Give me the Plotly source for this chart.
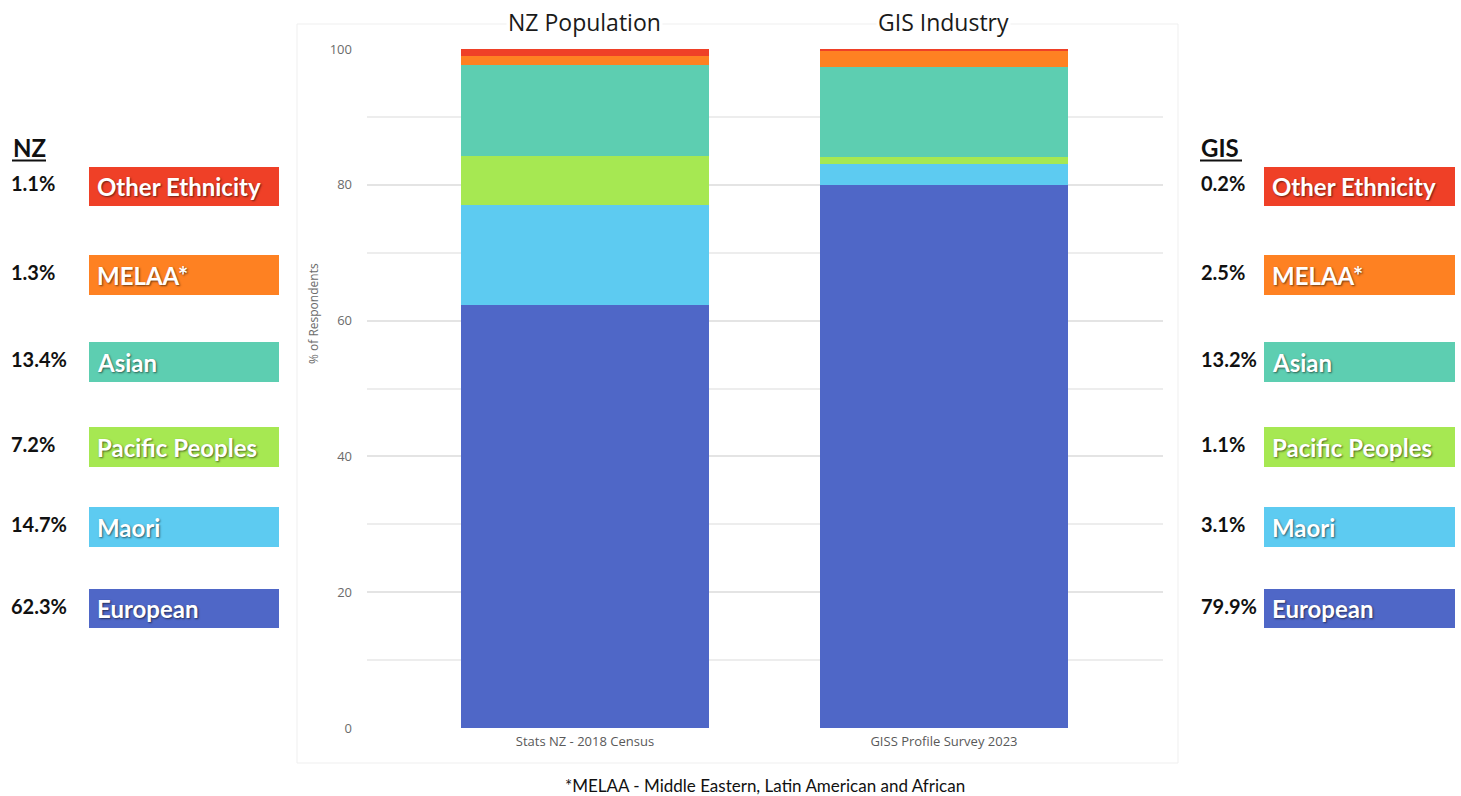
import plotly.graph_objects as go

# ---------------- data ----------------
bar_categories = ["Stats NZ - 2018 Census", "GISS Profile Survey 2023"]
bar_titles = ["NZ Population", "GIS Industry"]
ethnicities = ["European", "Maori", "Pacific Peoples", "Asian", "MELAA*", "Other Ethnicity"]
nz_values = [62.3, 14.7, 7.2, 13.4, 1.3, 1.1]
gis_values = [79.9, 3.1, 1.1, 13.2, 2.5, 0.2]
colors = ["#4F67C7", "#5DCBF1", "#A6E852", "#5DCEB1", "#FE8122", "#EF4027"]
y_tickvals = [0, 20, 40, 60, 80, 100]
footnote = "*MELAA - Middle Eastern, Latin American and African"

# ---------------- geometry ----------------
W, H = 1461, 796
L, R, T, B = 367, 298, 49, 68
PW, PH = W - L - R, H - T - B


def px(xp):
    return (xp - L) / PW


def py(yp):
    return (H - B - yp) / PH


fig = go.Figure()
for i, eth in enumerate(ethnicities):
    fig.add_trace(go.Bar(
        x=bar_categories,
        y=[nz_values[i], gis_values[i]],
        name=eth,
        marker=dict(color=colors[i], line=dict(width=0)),
        width=0.69,
        hoverinfo="name+y",
    ))

shapes = []
annotations = []

# outer light frame
shapes.append(dict(type="rect", xref="paper", yref="paper",
                   x0=px(297), x1=px(1178), y0=py(763), y1=py(24),
                   line=dict(color="#EFEFEF", width=1), fillcolor="rgba(0,0,0,0)", layer="below"))

# bar titles
for cat, title in zip(bar_categories, bar_titles):
    annotations.append(dict(x=cat, xref="x", y=py(22), yref="paper", text=title,
                            showarrow=False, xanchor="center", yanchor="middle",
                            bgcolor="white",
                            font=dict(family="Open Sans", size=23, color="#1a1a1a")))

# y axis title
annotations.append(dict(x=px(314), xref="paper", y=py(314), yref="paper",
                        text="% of Respondents", textangle=-90, showarrow=False,
                        xanchor="center", yanchor="middle",
                        font=dict(family="Open Sans", size=12, color="#6b6b6b")))

# footnote
annotations.append(dict(x=px(765), xref="paper", y=py(785), yref="paper", text=footnote,
                        showarrow=False, xanchor="center", yanchor="middle",
                        font=dict(family="Lato", size=17, color="#111111")))

# side legends
box_rows = {  # top, bottom pixel rows per ethnicity
    "Other Ethnicity": (167, 206),
    "MELAA*": (255, 295),
    "Asian": (342, 382),
    "Pacific Peoples": (427, 467),
    "Maori": (507, 547),
    "European": (589, 628),
}
sides = [
    dict(header="NZ", header_x=11, header_w=35, pct_x=9, box_x0=89, box_x1=279, values=nz_values),
    dict(header="GIS", header_x=1199, header_w=43, pct_x=1199, box_x0=1264, box_x1=1455, values=gis_values),
]
for s in sides:
    annotations.append(dict(x=px(s["header_x"]), xref="paper", y=py(147), yref="paper",
                            text="<b>" + s["header"] + "</b>", showarrow=False,
                            xanchor="left", yanchor="middle",
                            font=dict(family="Lato", size=24, color="#111111")))
    shapes.append(dict(type="line", xref="paper", yref="paper",
                       x0=px(s["header_x"] + 1), x1=px(s["header_x"] + s["header_w"]),
                       y0=py(160.5), y1=py(160.5), line=dict(color="#111111", width=2)))
    for i, eth in enumerate(ethnicities):
        top, bot = box_rows[eth]
        shapes.append(dict(type="rect", xref="paper", yref="paper",
                           x0=px(s["box_x0"]), x1=px(s["box_x1"]), y0=py(bot), y1=py(top),
                           fillcolor=colors[i], line=dict(width=0)))
        annotations.append(dict(x=px(s["box_x0"] + 6), xref="paper", y=py((top + bot) / 2), yref="paper",
                                text="<b>" + eth + "</b>", showarrow=False,
                                xanchor="left", yanchor="middle",
                                font=dict(family="Lato", size=24, color="white",
                                          shadow="1px 1px 2px rgba(0,0,0,0.55)")))
        annotations.append(dict(x=px(s["pct_x"]), xref="paper", y=py((top + bot) / 2 - 3), yref="paper",
                                text="<b>%.1f%%</b>" % s["values"][i], showarrow=False,
                                xanchor="left", yanchor="middle",
                                font=dict(family="Lato", size=20, color="#111111")))

fig.update_layout(
    barmode="stack",
    width=W, height=H,
    margin=dict(l=L, r=R, t=T, b=B, pad=0),
    paper_bgcolor="white",
    plot_bgcolor="white",
    showlegend=False,
    shapes=shapes,
    annotations=annotations,
    xaxis=dict(
        type="category",
        range=[-0.607, 1.61],
        showgrid=False, zeroline=False, showline=False,
        ticks="",
        ticklabelstandoff=4,
        tickfont=dict(family="Open Sans", size=13, color="#595959"),
    ),
    yaxis=dict(
        range=[0, 100],
        tickvals=y_tickvals,
        showgrid=True, gridcolor="#E4E4E4", gridwidth=1.5,
        minor=dict(dtick=10, showgrid=True, gridcolor="#EDEDED", gridwidth=1.5, ticks=""),
        zeroline=False, showline=False,
        ticks="",
        ticklabelstandoff=14,
        tickfont=dict(family="Open Sans", size=13, color="#6b6b6b"),
    ),
)

fig.write_html("out.html", config={"displayModeBar": False},
               post_script="document.body.style.margin='0';")
